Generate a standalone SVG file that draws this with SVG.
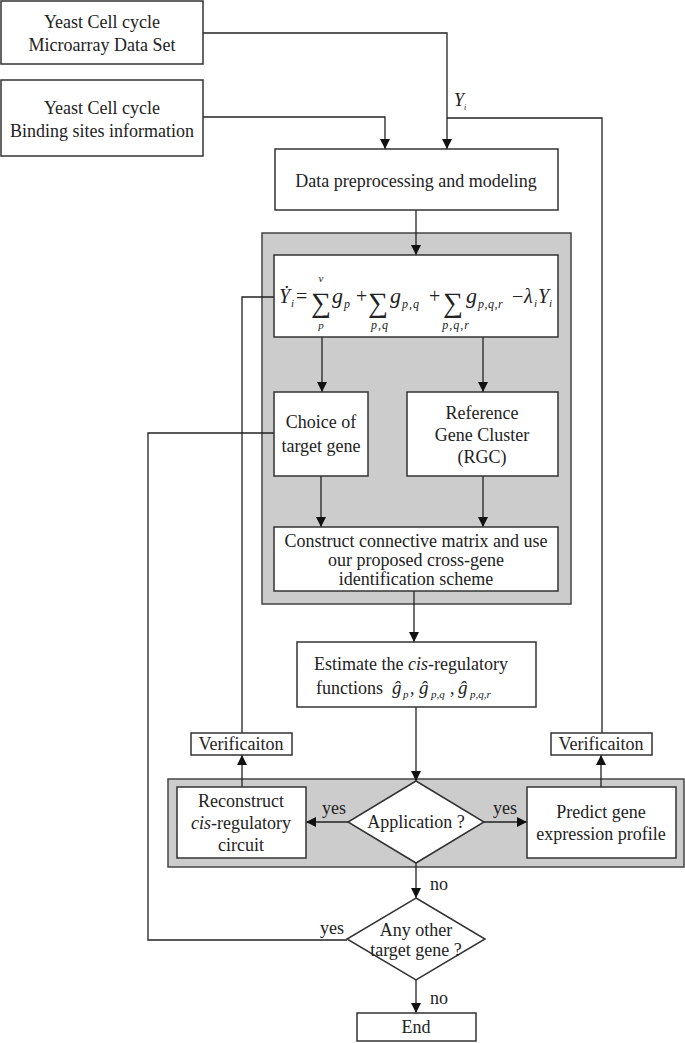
<svg xmlns="http://www.w3.org/2000/svg" width="685" height="1043" viewBox="0 0 685 1043">
<defs>
<marker id="ah" viewBox="0 0 10 10" refX="10" refY="5" markerWidth="10" markerHeight="10" markerUnits="userSpaceOnUse" orient="auto">
<path d="M0,0 L10,5 L0,10 z" fill="#111"/>
</marker>
<style>
.box{fill:#fff;stroke:#333;stroke-width:1.5}
.gray{fill:#cccccc;stroke:#444;stroke-width:1.5}
.ln{fill:none;stroke:#222;stroke-width:1.3}
.ar{fill:none;stroke:#222;stroke-width:1.3;marker-end:url(#ah)}
text{font-family:"Liberation Serif","Times New Roman",serif;fill:#222;font-size:18px}
.c{text-anchor:middle}
.it{font-style:italic}
.sub{font-size:11px;font-style:italic}
.sig{font-size:28px}
</style>
</defs>
<rect width="685" height="1043" fill="#fff"/>

<g id="bg-top"><rect class="gray" x="262" y="233" width="309" height="371"/></g>
<g id="bg-bottom"><rect class="gray" x="168" y="779" width="516" height="88"/></g>

<g id="connectors">
<path class="ar" d="M203,33 H447 V149"/>
<path class="ar" d="M203,117 H385 V149"/>
<path class="ln" d="M447,118 H602 V733"/>
<path class="ar" d="M416,210 V255"/>
<path class="ln" d="M274,297 H242 V733"/>
<path class="ar" d="M322,337 V392"/>
<path class="ar" d="M483,337 V392"/>
<path class="ar" d="M321,476 V527"/>
<path class="ar" d="M483,476 V527"/>
<path class="ln" d="M274,433 H148 V940 H347"/>
<path class="ar" d="M414,591 V642"/>
<path class="ar" d="M416,707 V781"/>
<path class="ar" d="M348,822 H306"/>
<path class="ar" d="M484,822 H527"/>
<path class="ar" d="M242,787 V755"/>
<path class="ar" d="M601,787 V755"/>
<path class="ar" d="M416,863 V898"/>
<path class="ar" d="M416,980 V1013"/>
<text class="it" x="454" y="106">Y</text><text class="sub" x="464" y="110" style="font-size:8px">i</text>
<text x="320" y="934">yes</text>
<text x="430" y="890">no</text>
<text x="430" y="1004">no</text>
<text x="322" y="814">yes</text>
<text x="493" y="814">yes</text>
</g>

<g id="microarray">
<rect class="box" x="1" y="1" width="202" height="63"/>
<text class="c" x="102" y="28">Yeast Cell cycle</text>
<text class="c" x="102" y="51">Microarray Data Set</text>
</g>

<g id="binding">
<rect class="box" x="1" y="80" width="202" height="76"/>
<text class="c" x="102" y="114">Yeast Cell cycle</text>
<text class="c" x="102" y="137">Binding sites information</text>
</g>

<g id="preprocessing">
<rect class="box" x="275" y="149" width="283" height="61"/>
<text class="c" x="416" y="187">Data preprocessing and modeling</text>
</g>

<g id="equation">
<rect class="box" x="274" y="255" width="284" height="82"/>
<text class="it" x="279" y="303" style="font-size:20px">Ẏ</text>
<text class="sub" x="291" y="307">i</text>
<text x="296" y="303" style="font-size:20px">=</text>
<text class="sig" x="311" y="312">∑</text>
<text class="sub c" x="321" y="282">v</text>
<text class="sub c" x="321" y="329">p</text>
<text class="it" x="332" y="303" style="font-size:22px">g</text>
<text class="sub" x="344" y="308" style="font-size:12px">p</text>
<text x="356" y="303" style="font-size:20px">+</text>
<text class="sig" x="368" y="312">∑</text>
<text class="sub c" x="380" y="329" style="font-size:12px;letter-spacing:1px">p,q</text>
<text class="it" x="390" y="303" style="font-size:22px">g</text>
<text class="sub" x="402" y="308" style="font-size:12px;letter-spacing:1px">p,q</text>
<text x="429" y="303" style="font-size:20px">+</text>
<text class="sig" x="443" y="312">∑</text>
<text class="sub c" x="456" y="329" style="font-size:12px;letter-spacing:1px">p,q,r</text>
<text class="it" x="466" y="303" style="font-size:22px">g</text>
<text class="sub" x="478" y="308" style="font-size:12px;letter-spacing:0.5px">p,q,r</text>
<text x="512" y="303" style="font-size:20px">−</text>
<text class="it" x="524" y="303" style="font-size:20px">λ</text>
<text class="sub" x="534" y="307">i</text>
<text class="it" x="538" y="303" style="font-size:20px">Y</text>
<text class="sub" x="549" y="307">i</text>
</g>

<g id="choice">
<rect class="box" x="274" y="392" width="94" height="84"/>
<text class="c" x="321" y="428">Choice of</text>
<text class="c" x="321" y="452">target gene</text>
</g>

<g id="rgc">
<rect class="box" x="407" y="392" width="151" height="84"/>
<text class="c" x="482" y="419">Reference</text>
<text class="c" x="482" y="441">Gene Cluster</text>
<text class="c" x="482" y="463">(RGC)</text>
</g>

<g id="construct">
<rect class="box" x="274" y="527" width="284" height="64"/>
<text class="c" x="416" y="547">Construct connective matrix and use</text>
<text class="c" x="416" y="566">our proposed cross-gene</text>
<text class="c" x="416" y="585">identification scheme</text>
</g>

<g id="estimate">
<rect class="box" x="297" y="642" width="239" height="65"/>
<text x="314" y="670">Estimate the <tspan class="it">cis</tspan>-regulatory</text>
<text x="316" y="694">functions</text>
<text class="it" x="392" y="694" style="font-size:19px">ĝ</text>
<text class="sub" x="403" y="698">p</text>
<text x="410" y="694">,</text>
<text class="it" x="419" y="694" style="font-size:19px">ĝ</text>
<text class="sub" x="431" y="698">p,q</text>
<text x="450" y="694">,</text>
<text class="it" x="458" y="694" style="font-size:19px">ĝ</text>
<text class="sub" x="470" y="698">p,q,r</text>
</g>

<g id="verif-left">
<rect class="box" x="191" y="733" width="101" height="22"/>
<text class="c" x="241" y="750">Verificaiton</text>
</g>

<g id="verif-right">
<rect class="box" x="551" y="733" width="101" height="22"/>
<text class="c" x="601" y="750">Verificaiton</text>
</g>

<g id="reconstruct">
<rect class="box" x="177" y="787" width="129" height="71"/>
<text class="c" x="241" y="807">Reconstruct</text>
<text class="c" x="241" y="829"><tspan class="it">cis</tspan>-regulatory</text>
<text class="c" x="241" y="851">circuit</text>
</g>

<g id="application">
<polygon class="box" points="416,781 484,822 416,863 348,822"/>
<text class="c" x="416" y="828">Application ?</text>
</g>

<g id="predict">
<rect class="box" x="527" y="787" width="149" height="71"/>
<text class="c" x="601" y="818">Predict gene</text>
<text class="c" x="601" y="840">expression profile</text>
</g>

<g id="other">
<polygon class="box" points="416,898 485,939 416,980 347,939"/>
<text class="c" x="416" y="936">Any other</text>
<text class="c" x="416" y="956">target gene ?</text>
</g>

<g id="end">
<rect class="box" x="357" y="1013" width="119" height="28"/>
<text class="c" x="416" y="1033">End</text>
</g>
</svg>
